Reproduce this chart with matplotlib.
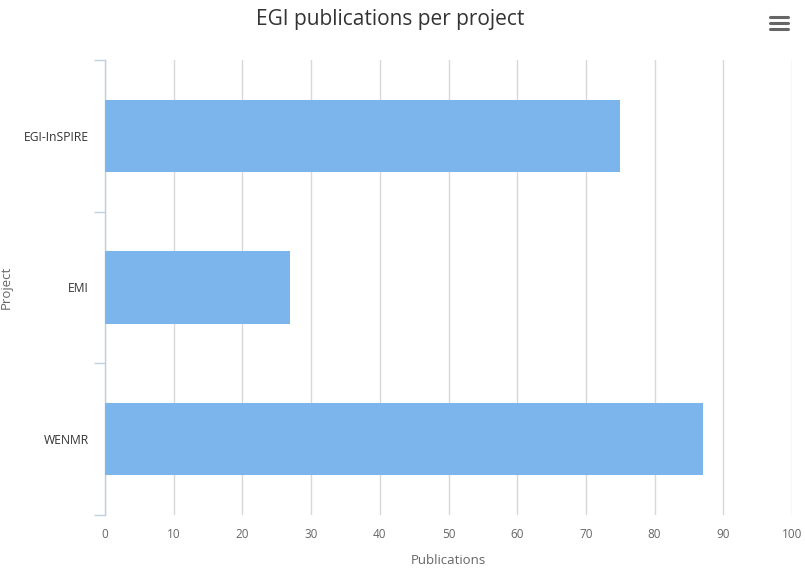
import matplotlib.pyplot as plt
from matplotlib.lines import Line2D

# ========== data ==========
projects = ["EGI-InSPIRE", "EMI", "WENMR"]
publications = [75, 27, 87]
x_ticks = [0, 10, 20, 30, 40, 50, 60, 70, 80, 90, 100]

plt.rcParams['font.family'] = ['Open Sans', 'DejaVu Sans']

fig = plt.figure(figsize=(8.05, 5.69), dpi=100)
ax = fig.add_axes([105 / 805, 54 / 569, 687 / 805, 455 / 569])

pos = list(range(len(projects)))
ax.barh(pos, publications, height=0.475, color="#7cb5ec", zorder=3)

ax.set_xlim(0, 100)
ax.set_ylim(len(projects) - 0.5, -0.5)

# x axis: grid lines only
ax.set_xticks(x_ticks)
ax.set_xticklabels([str(v) for v in x_ticks], color="#666666", fontsize=8.5)
ax.tick_params(axis="x", length=0, pad=9)
ax.grid(axis="x", color="#d8d8d8", linewidth=1, zorder=0)

# y axis: category labels, ticks at band edges
ax.set_yticks(pos)
ax.set_yticklabels(projects, color="#333333", fontsize=8.7)
ax.tick_params(axis="y", which="major", length=0, pad=11.5)
ax.set_yticks([p - 0.5 for p in pos] + [len(projects) - 0.5], minor=True)
ax.tick_params(axis="y", which="minor", length=8, width=1, color="#c0d0e0")

for side in ["top", "right", "bottom"]:
    ax.spines[side].set_visible(False)
ax.spines["left"].set_color("#c0d0e0")
ax.spines["left"].set_linewidth(1)

ax.set_xlabel("Publications", color="#666666", fontsize=9.5, labelpad=10)
fig.text(6 / 805, 1 - 287 / 569, "Project", rotation=90, ha="center", va="center",
         color="#666666", fontsize=9.5)

fig.text(390 / 805, 1 - 19 / 569, "EGI publications per project",
         ha="center", va="center", fontsize=15, color="#333333")

# menu icon
for yy in [17, 23, 29]:
    fig.add_artist(Line2D([770 / 805, 788 / 805], [1 - yy / 569, 1 - yy / 569],
                          color="#666666", linewidth=2.2, solid_capstyle="round"))

fig.savefig("out.png", dpi=100, facecolor="white")
